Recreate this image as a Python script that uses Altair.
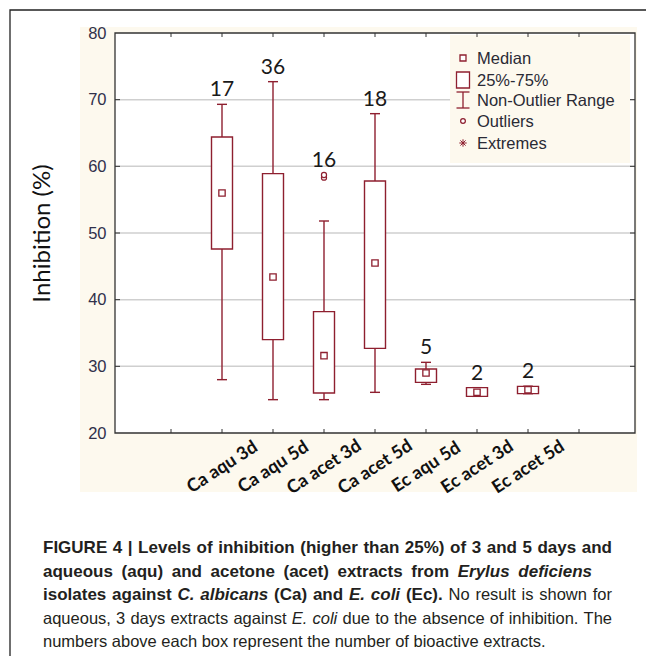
import altair as alt
import pandas as pd

# ---------------- data ----------------
categories = ["Ca aqu 3d", "Ca aqu 5d", "Ca acet 3d", "Ca acet 5d",
              "Ec aqu 5d", "Ec acet 3d", "Ec acet 5d"]
slots = [2, 3, 4, 5, 6, 7, 8]          # x slot of each box (slots 1 and 9 empty)
n_extracts = [17, 36, 16, 18, 5, 2, 2]
whisker_low = [28.0, 25.0, 25.0, 26.1, 27.3, 25.5, 25.9]
q1 = [47.6, 34.0, 26.0, 32.7, 27.6, 25.5, 25.9]
median = [56.0, 43.4, 31.6, 45.5, 29.0, 26.1, 26.5]
q3 = [64.4, 58.9, 38.2, 57.8, 29.6, 26.8, 27.0]
whisker_high = [69.3, 72.7, 51.8, 67.9, 30.6, 26.8, 27.0]
outlier_cat = ["Ca acet 3d", "Ca acet 3d"]
outlier_val = [58.3, 58.7]
y_ticks = [20, 30, 40, 50, 60, 70, 80]
grid_vals = [30, 40, 50, 60, 70]
frame_ticks = [1, 2, 3, 4, 5, 6, 7, 8, 9]

legend_labels = ["Median", "25%-75%", "Non-Outlier Range", "Outliers", "Extremes"]

caption_lines = [
    [("FIGURE 4 | Levels of inhibition (higher than 25%) of 3 and 5 days and", "b")],
    [("aqueous (aqu) and acetone (acet) extracts from", "b"), ("Erylus deficiens", "bi")],
    [("isolates against", "b"), ("C. albicans", "bi"), ("(Ca) and", "b"), ("E. coli", "bi"),
     ("(Ec).", "b"), ("No result is shown for", "r")],
    [("aqueous, 3 days extracts against", "r"), ("E. coli", "i"),
     ("due to the absence of inhibition. The", "r")],
    [("numbers above each box represent the number of bioactive extracts.", "r")],
]
caption_right = [612, 592, 612, 612, None]   # justified right edge per line (None = ragged)

# ---------------- tables ----------------
pos_of = dict(zip(categories, slots))
box_df = pd.DataFrame({
    "cat": categories, "pos": slots, "n": n_extracts,
    "lo": whisker_low, "q1": q1, "med": median, "q3": q3, "hi": whisker_high,
})
out_df = pd.DataFrame({"cat": outlier_cat, "val": outlier_val})
out_df["pos"] = out_df["cat"].map(pos_of)
top_map = out_df.groupby("cat")["val"].max().to_dict()
box_df["top"] = [max(h, top_map.get(c, h)) for c, h in zip(categories, whisker_high)]
grid_df = pd.DataFrame({"v": grid_vals})
fticks_df = pd.DataFrame({"p": frame_ticks})
one = pd.DataFrame({"k": [0]})

# ---------------- style ----------------
MAROON = "#8e1f2f"
W, H = 520, 400
OX, OY = 115, 33  # page position of the plot origin

label_arr = [""] * 11
for c, s in zip(categories, slots):
    label_arr[s] = c
label_expr = "[" + ",".join("'" + t + "'" for t in label_arr) + "][datum.value]"

xscale = alt.Scale(domain=[0, 10], nice=False, zero=False)
yscale = alt.Scale(domain=[20, 80], nice=False, zero=False)
xaxis = alt.Axis(values=slots, labelExpr=label_expr, labelAngle=-33, labelAlign="center",
                 labelBaseline="middle", labelPadding=34, labelFont="Lato",
                 labelFontWeight="bold", labelFontSize=18, labelColor="#111111",
                 labelOverlap=False, labelFlush=False, labelBound=False,
                 domain=False, ticks=False, grid=False, title=None, zindex=5)
yaxis = alt.Axis(values=y_ticks, labelFont="Liberation Sans", labelFontSize=16.5,
                 labelColor="#30304a", labelPadding=9, domain=False, ticks=False,
                 grid=False, title="Inhibition (%)", titleFont="Lato", titleFontSize=24,
                 titleFontWeight="normal", titleColor="#111111", titlePadding=33, zindex=5)


def X(f):
    return alt.X(f, type="quantitative", scale=xscale, axis=xaxis)


def Y(f):
    return alt.Y(f, type="quantitative", scale=yscale, axis=yaxis)


def px(x):
    return alt.value(x - OX)


def py(y):
    return alt.value(y - OY)


layers = []

# figure border (top/left visible)
layers.append(alt.Chart(one).mark_rect(fill=None, stroke="#222222", strokeWidth=1.3).encode(
    x=px(10), x2=px(800), y=py(10), y2=py(900)))
# cream panel
layers.append(alt.Chart(one).mark_rect(fill="#fdf9ee").encode(
    x=px(80), x2=px(637), y=py(27), y2=py(492)))
# white plot area
layers.append(alt.Chart(one).mark_rect(fill="white").encode(
    x=alt.value(0), x2=alt.value(W), y=alt.value(0), y2=alt.value(H)))
# gridlines
layers.append(alt.Chart(grid_df).mark_rule(color="#cfcfcf", strokeWidth=1.5).encode(
    y=Y("v"), x=alt.value(0), x2=alt.value(W)))

# legend
layers.append(alt.Chart(one).mark_rect(fill="#fdf9ee").encode(
    x=px(450), x2=px(630), y=py(35), y2=py(163)))
leg_y = [58, 80, 100, 121, 143]
sx = 463
layers.append(alt.Chart(one).mark_point(shape="square", size=36, fill="white", stroke=MAROON,
                                        strokeWidth=1.3, opacity=1).encode(
    x=px(sx), y=py(leg_y[0])))
layers.append(alt.Chart(one).mark_rect(fill="white", stroke=MAROON, strokeWidth=1.3).encode(
    x=px(sx - 6.5), x2=px(sx + 6.5), y=py(leg_y[1] - 8), y2=py(leg_y[1] + 8)))
layers.append(alt.Chart(one).mark_rule(color=MAROON, strokeWidth=1.3).encode(
    x=px(sx), y=py(leg_y[2] - 8), y2=py(leg_y[2] + 8)))
for yy in (leg_y[2] - 8, leg_y[2] + 8):
    layers.append(alt.Chart(one).mark_rule(color=MAROON, strokeWidth=1.3).encode(
        x=px(sx - 6.5), x2=px(sx + 6.5), y=py(yy)))
layers.append(alt.Chart(one).mark_point(shape="circle", size=22, fill="white", stroke=MAROON,
                                        strokeWidth=1.3, opacity=1).encode(
    x=px(sx), y=py(leg_y[3])))
layers.append(alt.Chart(one).mark_point(
    shape="M-1,0L1,0M0,-1L0,1M-0.7,-0.7L0.7,0.7M-0.7,0.7L0.7,-0.7",
    size=55, stroke=MAROON, strokeWidth=1, opacity=1).encode(x=px(sx), y=py(leg_y[4])))
for lab, yy in zip(legend_labels, leg_y):
    layers.append(alt.Chart(one).mark_text(align="left", baseline="middle", font="Liberation Sans",
                                           fontSize=16.5, color="#2a2a35").encode(
        x=px(477), y=py(yy + 1), text=alt.value(lab)))

# boxes
base = alt.Chart(box_df)
layers.append(base.mark_rule(color=MAROON, strokeWidth=1.4).encode(x=X("pos"), y=Y("lo"), y2="hi"))
layers.append(base.mark_tick(orient="horizontal", size=10, thickness=1.4, color=MAROON, opacity=1).encode(
    x=X("pos"), y=Y("hi")))
layers.append(base.mark_tick(orient="horizontal", size=10, thickness=1.4, color=MAROON, opacity=1).encode(
    x=X("pos"), y=Y("lo")))
layers.append(base.mark_bar(size=21, fill="white", stroke=MAROON, strokeWidth=1.4).encode(
    x=X("pos"), y=Y("q1"), y2="q3"))
layers.append(base.mark_point(shape="square", size=40, fill="white", stroke=MAROON,
                              strokeWidth=1.3, opacity=1).encode(x=X("pos"), y=Y("med")))
layers.append(alt.Chart(out_df).mark_point(shape="circle", size=26, fill="white", stroke=MAROON,
                                           strokeWidth=1.2, opacity=1).encode(
    x=X("pos"), y=Y("val")))
layers.append(base.mark_text(font="Lato", fontSize=21, dy=-8, baseline="alphabetic",
                             color="#1a1a1a").encode(x=X("pos"), y=Y("top"), text="n:N"))

# frame and inward ticks
layers.append(alt.Chart(one).mark_rect(fill=None, stroke="#333333", strokeWidth=1.3).encode(
    x=alt.value(0), x2=alt.value(W), y=alt.value(0), y2=alt.value(H)))
layers.append(alt.Chart(grid_df).mark_rule(color="#333333", strokeWidth=1).encode(
    y=Y("v"), x=alt.value(0), x2=alt.value(5)))
layers.append(alt.Chart(grid_df).mark_rule(color="#333333", strokeWidth=1).encode(
    y=Y("v"), x=alt.value(W - 5), x2=alt.value(W)))
layers.append(alt.Chart(fticks_df).mark_rule(color="#333333", strokeWidth=1).encode(
    x=X("p"), y=alt.value(0), y2=alt.value(4)))
layers.append(alt.Chart(fticks_df).mark_rule(color="#333333", strokeWidth=1).encode(
    x=X("p"), y=alt.value(H - 4), y2=alt.value(H)))

# ---------------- caption (word by word, justified) ----------------
REG = dict(zip("abcdefghijklmnopqrstuvwxyz",
               [556, 556, 500, 556, 556, 278, 556, 556, 222, 222, 500, 222, 833, 556, 556, 556,
                556, 333, 500, 278, 556, 500, 722, 500, 500, 500]))
REG.update(dict(zip("ABCDEFGHIJKLMNOPQRSTUVWXYZ",
                    [667, 667, 722, 722, 667, 611, 778, 722, 278, 500, 667, 556, 833, 722, 778,
                     667, 778, 722, 667, 611, 722, 667, 944, 667, 667, 611])))
REG.update({" ": 278, ",": 278, ".": 278, "(": 333, ")": 333, "%": 889, "|": 260, "-": 333})
REG.update({d: 556 for d in "0123456789"})
BOLD = dict(zip("abcdefghijklmnopqrstuvwxyz",
                [556, 611, 556, 611, 556, 333, 611, 611, 278, 278, 556, 278, 889, 611, 611, 611,
                 611, 389, 556, 333, 611, 556, 778, 556, 556, 500]))
BOLD.update(dict(zip("ABCDEFGHIJKLMNOPQRSTUVWXYZ",
                     [722, 722, 722, 722, 667, 611, 778, 722, 278, 556, 722, 611, 833, 722, 778,
                      667, 778, 722, 667, 611, 722, 667, 944, 667, 667, 611])))
BOLD.update({" ": 278, ",": 278, ".": 278, "(": 333, ")": 333, "%": 889, "|": 280, "-": 333})
BOLD.update({d: 556 for d in "0123456789"})

SIZE_B, SIZE_R = 17, 16.5
CAP_LEFT = 43
cap_centers = [547, 570.5, 594, 617.5, 641]


def tw(s, bold):
    t = BOLD if bold else REG
    return sum(t.get(ch, 556) for ch in s) * (SIZE_B if bold else SIZE_R) / 1000.0


for line, right, cy in zip(caption_lines, caption_right, cap_centers):
    words = []
    for text, st in line:
        for w in text.split():
            words.append((w, st))
    widths = [tw(w, "b" in st) for w, st in words]
    if right is not None and len(words) > 1:
        gap = (right - CAP_LEFT - sum(widths)) / (len(words) - 1)
    else:
        gap = 278 * SIZE_R / 1000.0
    xcur = CAP_LEFT
    for (w, st), wd in zip(words, widths):
        bold = "b" in st
        layers.append(alt.Chart(one).mark_text(
            align="left", baseline="alphabetic", font="Liberation Sans",
            fontSize=SIZE_B if bold else SIZE_R,
            fontWeight="bold" if bold else "normal",
            fontStyle="italic" if "i" in st else "normal", color="#231f20").encode(
            x=px(xcur), y=py(cy + 6), text=alt.value(w)))
        xcur += wd + gap

chart = alt.layer(*layers).properties(
    width=W, height=H,
    padding={"left": OX - 8, "top": OY - 8, "right": 638 - (OX - 8) - W, "bottom": 648 - (OY - 8) - H},
    autosize=alt.AutoSizeParams(type="none"),
    background="white",
).configure_view(stroke=None).configure_axis(zindex=5)

chart.save("out.html", embed_options={"renderer": "svg", "actions": False})
